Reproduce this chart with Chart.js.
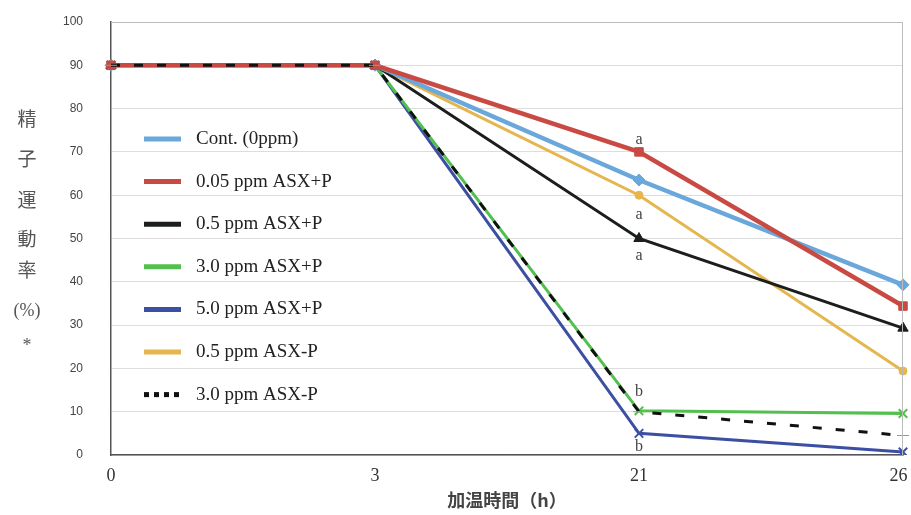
<!DOCTYPE html>
<html>
<head>
<meta charset="utf-8">
<script src="https://cdn.jsdelivr.net/npm/chart.js@4.4.1/dist/chart.umd.min.js"></script>
<style>
  html, body { margin: 0; padding: 0; background: #fff; }
  #wrap { width: 911px; height: 515px; position: relative; }
</style>
</head>
<body>
<div id="wrap"><canvas id="chart" width="911" height="515"></canvas></div>
<script>
const hours = ['0', '3', '21', '26'];
const seriesNames = [
  'Cont. (0ppm)',
  '0.05 ppm ASX+P',
  '0.5 ppm ASX+P',
  '3.0 ppm ASX+P',
  '5.0 ppm ASX+P',
  '0.5 ppm ASX-P',
  '3.0 ppm ASX-P'
];
const cont = [90, 90, 63.5, 39.3];
const asx005p = [90, 90, 70, 34.4];
const asx05p = [90, 90, 50, 29.3];
const asx30p = [90, 90, 10.2, 9.6];
const asx50p = [90, 90, 5, 0.7];
const asx05m = [90, 90, 60, 19.4];
const asx30m = [90, 90, 10, 4.5];
const yTicks = [0, 10, 20, 30, 40, 50, 60, 70, 80, 90, 100];
// significance letters at 21 h
const letters = ['a', 'a', 'a', 'b', 'b'];
const letterValues = [72.8, 55.5, 46, 14.6, 1.8];

const yTitle = ['精', '子', '運', '動', '率', '(%)', '*'];
const xTitle = '加温時間（h）';

const colors = ['#6aa7db', '#c84a42', '#1b1f1b', '#52bf4e', '#3d4fa3', '#e6b64e', '#111111'];
const values = [cont, asx005p, asx05p, asx30p, asx50p, asx05m, asx30m];
const styles = ['rectRot', 'rect', 'triangle', 'crossRot', 'crossRot', 'circle', 'line'];
const radii = [6, 6, 6, 6, 6, 4, 6];
const widths = [4.5, 4.5, 3, 3, 3, 3, 3];

const datasets = values.map((v, i) => ({
  label: seriesNames[i],
  data: v,
  borderColor: colors[i],
  backgroundColor: colors[i],
  borderWidth: widths[i],
  borderDash: i === 6 ? [9, 14] : [],
  pointStyle: styles[i],
  pointRadius: radii[i],
  pointBorderWidth: styles[i] === 'crossRot' ? 2 : 1,
  pointBorderColor: i === 6 ? '#999' : colors[i],
  tension: 0,
  order: i === 6 ? 0 : (i === 1 ? 1 : i + 2)
}));

const noPad = scale => {
  scale.paddingTop = 0;
  scale.paddingBottom = 0;
  scale.paddingLeft = 0;
  scale.paddingRight = 0;
};

const overlay = {
  id: 'overlay',
  afterDraw(chart) {
    const { ctx, chartArea, scales } = chart;
    ctx.save();

    // frame on top & right
    ctx.strokeStyle = '#bbbbbb';
    ctx.lineWidth = 1;
    ctx.beginPath();
    ctx.moveTo(chartArea.left, chartArea.top + 0.5);
    ctx.lineTo(chartArea.right - 0.5, chartArea.top + 0.5);
    ctx.lineTo(chartArea.right - 0.5, chartArea.bottom);
    ctx.stroke();

    // legend inside plot
    const lx = chartArea.left + 33;
    let ly = chartArea.top + 117;
    ctx.font = '19px "Liberation Serif", serif';
    ctx.textBaseline = 'middle';
    ctx.textAlign = 'left';
    chart.data.datasets.forEach((ds, i) => {
      ctx.strokeStyle = ds.borderColor;
      ctx.lineWidth = 5;
      ctx.setLineDash(i === 6 ? [5, 5] : []);
      ctx.beginPath();
      ctx.moveTo(lx, ly);
      ctx.lineTo(lx + 37, ly);
      ctx.stroke();
      ctx.setLineDash([]);
      ctx.fillStyle = '#222';
      ctx.fillText(ds.label, lx + 52, ly);
      ly += 42.6;
    });

    // letters at 21 h
    const x21 = scales.x.getPixelForValue(2);
    ctx.font = '16px "Liberation Serif", serif';
    ctx.textAlign = 'center';
    ctx.fillStyle = '#444';
    letters.forEach((t, i) => {
      ctx.fillText(t, x21, scales.y.getPixelForValue(letterValues[i]));
    });

    // vertical y title
    ctx.fillStyle = '#555';
    const ys = [119, 159, 200, 239, 270, 311, 346];
    yTitle.forEach((c, i) => {
      ctx.font = i < 5 ? '19px "Noto Sans CJK JP", sans-serif' : '18px "Liberation Serif", serif';
      ctx.fillText(c, 27, ys[i]);
    });
    ctx.restore();
  }
};

new Chart(document.getElementById('chart').getContext('2d'), {
  type: 'line',
  data: { labels: hours, datasets },
  plugins: [overlay],
  options: {
    responsive: false,
    animation: false,
    layout: { padding: { top: 22, right: 8, left: 0, bottom: 0 } },
    plugins: { legend: { display: false }, tooltip: { enabled: false } },
    scales: {
      x: {
        offset: false,
        grid: { display: false, drawTicks: false },
        border: { color: '#555', width: 1.5 },
        ticks: {
          padding: 10,
          maxRotation: 0,
          color: '#333',
          font: { family: '"Liberation Serif", serif', size: 18 },
          // nudge the last label so it stays inside the canvas
          callback: (v, i) => i === hours.length - 1 ? hours[i] + '\u2002' : hours[i]
        },
        title: {
          display: true,
          text: xTitle,
          color: '#444',
          padding: { top: 4 },
          font: { family: '"Noto Sans CJK JP", sans-serif', size: 18, weight: 'bold' }
        },
        afterFit(scale) { scale.height = 60; noPad(scale); }
      },
      y: {
        min: 0,
        max: 100,
        afterBuildTicks(scale) { scale.ticks = yTicks.map(v => ({ value: v })); },
        grid: { color: '#dddddd', drawTicks: false },
        border: { color: '#555', width: 1.5 },
        ticks: {
          padding: 28,
          color: '#444',
          font: { family: '"Liberation Sans", sans-serif', size: 12 }
        },
        afterFit(scale) { scale.width = 111; noPad(scale); }
      }
    }
  }
});
</script>
</body>
</html>
